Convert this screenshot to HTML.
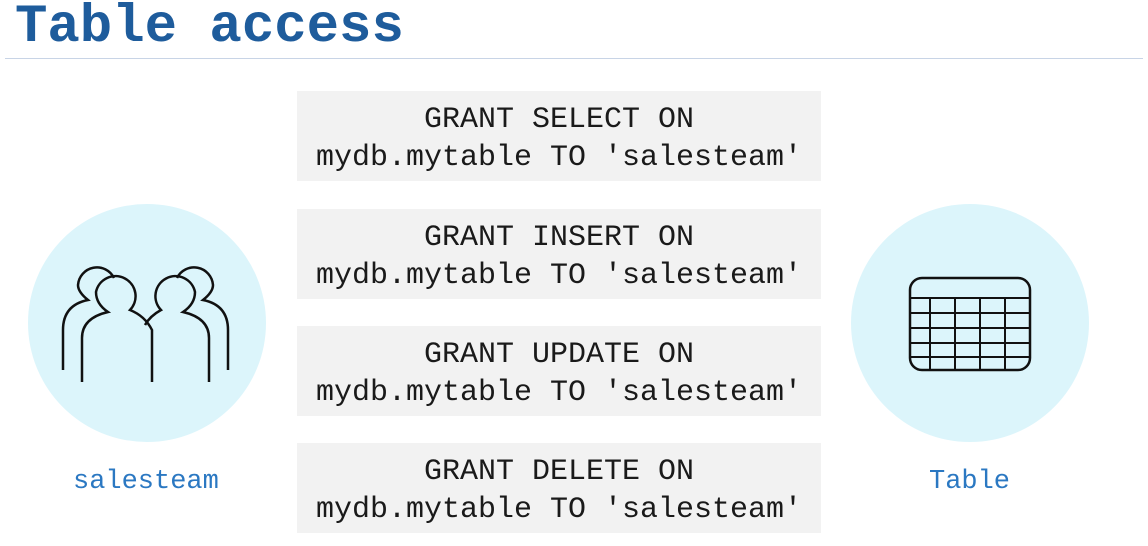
<!DOCTYPE html>
<html><head><style>
body{margin:0;width:1148px;height:546px;background:#fff;position:relative;overflow:hidden;font-family:"Liberation Mono",monospace}
.t{position:absolute;left:15px;top:-3px;font-size:54px;font-weight:bold;color:#1e5c9c;letter-spacing:0px}
.hr{position:absolute;left:5px;top:58px;width:1138px;height:1px;background:#c8d4e6}
.c{position:absolute;width:238px;height:238px;border-radius:50%;background:#dcf5fb}
.b{position:absolute;left:297px;width:524px;height:90px;background:#f2f2f2;color:#1a1a1a;font-size:30px;line-height:38px;text-align:center;padding-top:10px;box-sizing:border-box}
.l{position:absolute;font-size:27px;color:#2b78c2}
</style></head><body>
<div class="t">Table access</div>
<div class="hr"></div>
<div class="c" style="left:28px;top:204px"></div>
<div class="c" style="left:851px;top:204px"></div>
<div class="b" style="top:91px">GRANT SELECT ON<br>mydb.mytable TO 'salesteam'</div>
<div class="b" style="top:209px">GRANT INSERT ON<br>mydb.mytable TO 'salesteam'</div>
<div class="b" style="top:326px">GRANT UPDATE ON<br>mydb.mytable TO 'salesteam'</div>
<div class="b" style="top:443px">GRANT DELETE ON<br>mydb.mytable TO 'salesteam'</div>
<div class="l" style="left:73px;top:467px">salesteam</div>
<div class="l" style="left:929px;top:467px">Table</div>
<svg width="1148" height="546" style="position:absolute;left:0;top:0" fill="none" stroke="#111" stroke-width="2.5">
<path d="M63 370 V330 Q63 305 88 300 Q78 292 78 285 A19 19 0 0 1 114 278"/>
<path d="M82 382 V338 Q82 318 108 312 Q96 304 96 292 A20 20 0 1 1 130 310 Q145 316 152 330 V382"/>
<path d="M228 370 V330 Q228 305 203 300 Q213 292 213 285 A19 19 0 0 0 177 278"/>
<path d="M209 382 V338 Q209 318 183 312 Q195 304 195 292 A20 20 0 1 0 161 310 Q150 316 145 325"/>
<rect x="910" y="278" width="120" height="92" rx="12"/>
<path d="M910 298H1030M910 313H1030M910 328H1030M910 343H1030M910 357H1030M930 298V370M955 298V370M980 298V370M1005 298V370" stroke-width="2"/>
</svg>
</body></html>
